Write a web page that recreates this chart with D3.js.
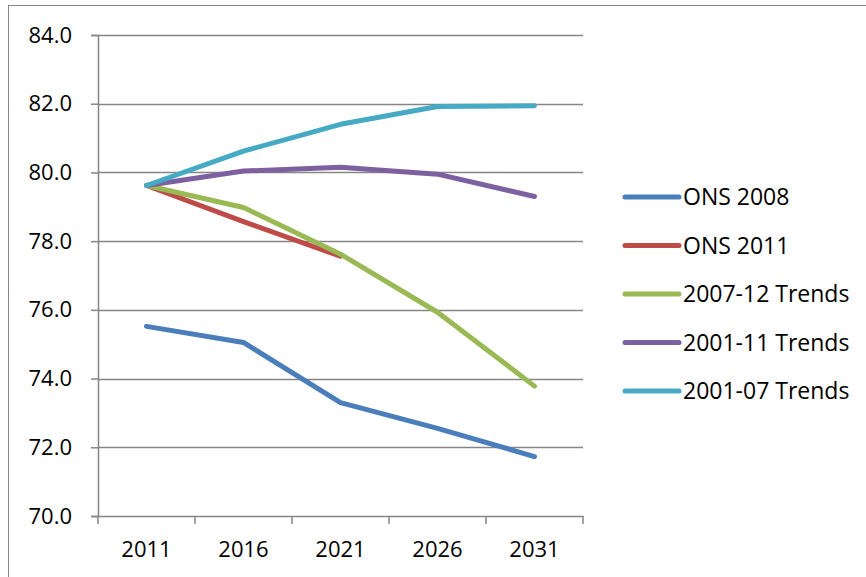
<!DOCTYPE html>
<html>
<head>
<meta charset="utf-8">
<script src="https://cdn.jsdelivr.net/npm/d3@7"></script>
<style>
  body { margin: 0; background: white; }
  svg { display: block; }
</style>
</head>
<body>
<script>
// Data
const years = ["2011", "2016", "2021", "2026", "2031"];
const yTicks = [70, 72, 74, 76, 78, 80, 82, 84];

const seriesNames = ["ONS 2008", "ONS 2011", "2007-12 Trends", "2001-11 Trends", "2001-07 Trends"];
const seriesColors = ["#4a7ebb", "#be4b48", "#98b954", "#7d60a0", "#46aac5"];

const ons2008 = [75.52, 75.05, 73.3, 72.55, 71.73];
const ons2011 = [79.62, 78.57, 77.56, null, null];
const trends0712 = [79.62, 78.98, 77.62, 75.93, 73.78];
const trends0111 = [79.62, 80.04, 80.15, 79.95, 79.3];
const trends0107 = [79.62, 80.62, 81.4, 81.92, 81.94];

const seriesValues = [ons2008, ons2011, trends0712, trends0111, trends0107];

const width = 866, height = 577;
const margin = { left: 98, right: 283, top: 35, bottom: 61 };
const font = "'Open Sans', 'Noto Sans', sans-serif";
const fontSize = "22px";
const axisColor = "#868686";

const svg = d3.select("body").append("svg")
    .attr("width", width)
    .attr("height", height);

// outer chart frame
svg.append("rect")
    .attr("x", 8.5).attr("y", 5.5)
    .attr("width", 900).attr("height", 600)
    .attr("fill", "none")
    .attr("stroke", axisColor)
    .attr("stroke-width", 1);

const x = d3.scaleBand()
    .domain(years)
    .range([margin.left, width - margin.right])
    .padding(0);

const y = d3.scaleLinear()
    .domain([70, 84])
    .range([height - margin.bottom, margin.top]);

// horizontal gridlines
svg.append("g")
    .selectAll("line")
    .data(yTicks.slice(1))
    .join("line")
    .attr("x1", margin.left)
    .attr("x2", width - margin.right)
    .attr("y1", d => Math.round(y(d)) + 0.5)
    .attr("y2", d => Math.round(y(d)) + 0.5)
    .attr("stroke", axisColor)
    .attr("stroke-width", 1.5);

// y axis
const yAxis = svg.append("g")
    .attr("transform", `translate(${margin.left},0)`)
    .call(d3.axisLeft(y).tickValues(yTicks).tickFormat(d3.format(".1f")).tickSize(7).tickPadding(19));

// x axis
const xAxis = svg.append("g")
    .attr("transform", `translate(0,${height - margin.bottom})`)
    .call(d3.axisBottom(x).tickSize(0).tickPadding(25));

// tick marks at the band boundaries
xAxis.selectAll(".bound")
    .data(years.concat(["end"]))
    .join("line")
    .attr("class", "bound")
    .attr("x1", (d, i) => i < years.length ? x(d) : x(years[years.length - 1]) + x.bandwidth())
    .attr("x2", (d, i) => i < years.length ? x(d) : x(years[years.length - 1]) + x.bandwidth())
    .attr("y1", 0).attr("y2", 8)
    .attr("stroke", axisColor)
    .attr("stroke-width", 1.5);

[yAxis, xAxis].forEach(g => {
  g.select(".domain").attr("stroke", axisColor).attr("stroke-width", 1.5);
  g.selectAll(".tick line").attr("stroke", axisColor).attr("stroke-width", 1.5);
  g.selectAll("text")
      .attr("fill", "#000")
      .style("font-family", font)
      .style("font-size", fontSize);
});

// lines
const line = d3.line()
    .defined(d => d != null)
    .x((d, i) => x(years[i]) + x.bandwidth() / 2)
    .y(d => y(d));

svg.append("g")
    .selectAll("path")
    .data(seriesValues)
    .join("path")
    .attr("d", d => line(d))
    .attr("fill", "none")
    .attr("stroke", (d, i) => seriesColors[i])
    .attr("stroke-width", 5)
    .attr("stroke-linejoin", "round")
    .attr("stroke-linecap", "round");

// legend
const legend = svg.append("g")
    .selectAll("g")
    .data(seriesNames)
    .join("g")
    .attr("transform", (d, i) => `translate(625,${197 + i * 48.5})`);

legend.append("line")
    .attr("x1", 0).attr("x2", 54)
    .attr("stroke", (d, i) => seriesColors[i])
    .attr("stroke-width", 5)
    .attr("stroke-linecap", "round");

legend.append("text")
    .attr("x", 58)
    .attr("dy", "0.36em")
    .style("font-family", font)
    .style("font-size", "23px")
    .text(d => d);
</script>
</body>
</html>
